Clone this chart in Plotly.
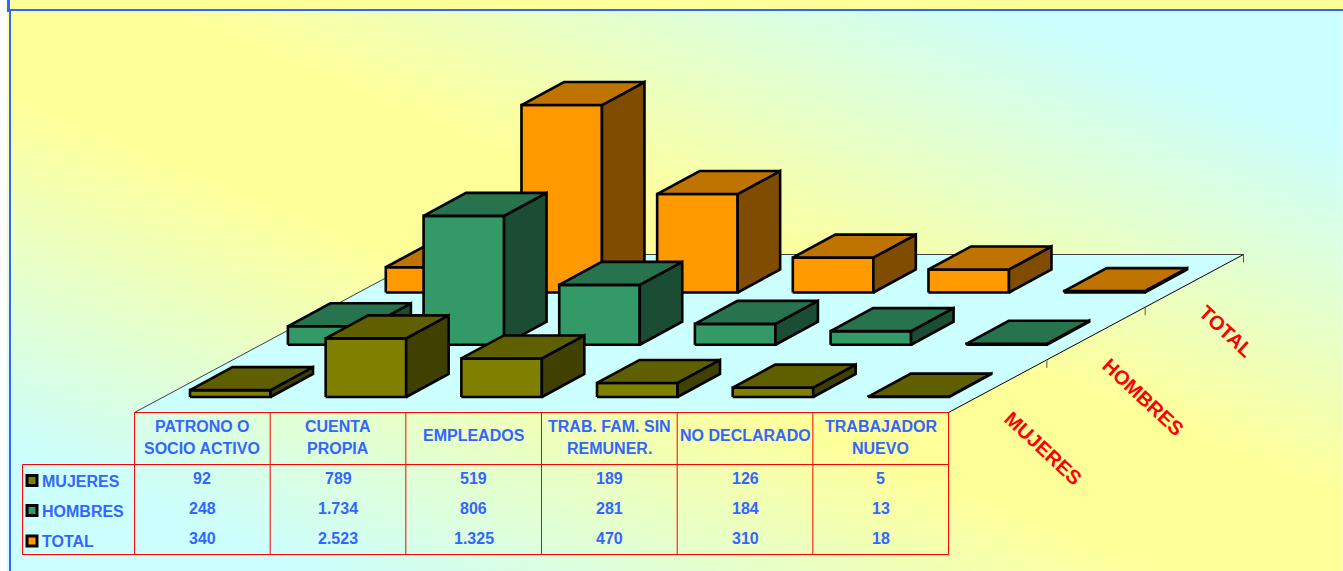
import plotly.graph_objects as go

categories = ["PATRONO O<br>SOCIO ACTIVO", "CUENTA<br>PROPIA", "EMPLEADOS",
              "TRAB. FAM. SIN<br>REMUNER.", "NO DECLARADO", "TRABAJADOR<br>NUEVO"]
series_names = ["MUJERES", "HOMBRES", "TOTAL"]
mujeres = [92, 789, 519, 189, 126, 5]
hombres = [248, 1734, 806, 281, 184, 13]
total = [340, 2523, 1325, 470, 310, 18]
mujeres_labels = ["92", "789", "519", "189", "126", "5"]
hombres_labels = ["248", "1.734", "806", "281", "184", "13"]
total_labels = ["340", "2.523", "1.325", "470", "310", "18"]
values = [mujeres, hombres, total]
labels = [mujeres_labels, hombres_labels, total_labels]
front_colors = ["#808000", "#339966", "#FF9900"]
top_colors = ["#605F00", "#26734D", "#BF7300"]
side_colors = ["#404000", "#1A4D33", "#804D00"]

W, H = 1343, 571
BLUE = "#3366FF"
COL_X0, COL_W = 134.5, 135.67
FLOOR_Y = 412.5
BAR_W, BAR_DX, BAR_DY = 80.5, 42.5, -23
BAR_X0, BAR_Y0 = 190, 397
ROW_DX, ROW_DY = 97.9, -52.25
PX_PER_UNIT = 0.0743

# background: yellow along the main diagonal, fading to cyan towards two corners
nx, ny = 160, 80
gx = [11 + (W - 11) * i / (nx - 1) for i in range(nx)]
gy = [11 + (H - 11) * j / (ny - 1) for j in range(ny)]
gz = []
for y in gy:
    row = []
    for x in gx:
        u = y - (33 + 0.414 * (x - 40))
        row.append(max(0.0, min(1.0, (abs(u) - 70) / 360)))
    gz.append(row)

fig = go.Figure()
fig.add_trace(go.Heatmap(x=gx, y=gy, z=gz, zmin=0, zmax=1, zsmooth="best", showscale=False,
                         colorscale=[[0, "#FFFF99"], [1, "#CCFFFF"]], hoverinfo="skip"))

# floor
fx0, fx1 = COL_X0, COL_X0 + 6 * COL_W
bdx, bdy = 295, -158
fig.add_trace(go.Scatter(x=[fx0, fx1, fx1 + bdx, fx0 + bdx, fx0], y=[FLOOR_Y, FLOOR_Y, FLOOR_Y + bdy, FLOOR_Y + bdy, FLOOR_Y],
                         mode="lines", fill="toself", fillcolor="#CCFFFF", line=dict(width=0), hoverinfo="skip"))
fig.add_trace(go.Scatter(x=[fx0, fx0 + bdx, None, fx0 + bdx, fx1 + bdx], y=[FLOOR_Y, FLOOR_Y + bdy, None, FLOOR_Y + bdy, FLOOR_Y + bdy],
                         mode="lines", line=dict(color="#404040", width=1), hoverinfo="skip"))
fig.add_trace(go.Scatter(x=[fx1, fx1 + bdx], y=[FLOOR_Y, FLOOR_Y + bdy], mode="lines",
                         line=dict(color="black", width=1), hoverinfo="skip"))
tx, ty = [], []
for k in (1, 2, 3):
    px = fx1 + bdx * k / 3
    py = FLOOR_Y + bdy * k / 3
    tx += [px, px, None]
    ty += [py, py + 8, None]
fig.add_trace(go.Scatter(x=tx, y=ty, mode="lines", line=dict(color="#555555", width=1), hoverinfo="skip"))


def face(xs, ys, color):
    fig.add_trace(go.Scatter(x=xs + xs[:1], y=ys + ys[:1], mode="lines", fill="toself", fillcolor=color,
                             line=dict(color="black", width=2.6, simplify=False), hoverinfo="skip"))


# 3D bars, back row first
for s in (2, 1, 0):
    for c, v in enumerate(values[s]):
        x0 = BAR_X0 + c * COL_W + s * ROW_DX
        y0 = BAR_Y0 + s * ROW_DY
        x1 = x0 + BAR_W
        yt = y0 - v * PX_PER_UNIT
        face([x0, x1, x1, x0], [y0, y0, yt, yt], front_colors[s])
        face([x1, x1 + BAR_DX, x1 + BAR_DX, x1], [y0, y0 + BAR_DY, yt + BAR_DY, yt], side_colors[s])
        face([x0, x1, x1 + BAR_DX, x0 + BAR_DX], [yt, yt, yt + BAR_DY, yt + BAR_DY], top_colors[s])

# table grid
ROW_HEAD_Y, TABLE_BOTTOM, TABLE_LEFT = 464.5, 554.5, 22.5
gxs, gys = [], []
for i in range(7):
    gxs += [COL_X0 + i * COL_W, COL_X0 + i * COL_W, None]
    gys += [FLOOR_Y, TABLE_BOTTOM, None]
gxs += [fx0, fx1, None, TABLE_LEFT, fx1, None, TABLE_LEFT, fx1, None, TABLE_LEFT, TABLE_LEFT]
gys += [FLOOR_Y, FLOOR_Y, None, ROW_HEAD_Y, ROW_HEAD_Y, None, TABLE_BOTTOM, TABLE_BOTTOM, None, ROW_HEAD_Y, TABLE_BOTTOM]
fig.add_trace(go.Scatter(x=gxs, y=gys, mode="lines", line=dict(color="#FF0000", width=1), hoverinfo="skip"))

# legend keys
fig.add_trace(go.Scatter(x=[32, 32, 32], y=[480.5, 510.5, 541], mode="markers", hoverinfo="skip",
                         marker=dict(symbol="square", size=10, color=front_colors, line=dict(color="black", width=3))))

FONT = "Liberation Sans, Arial, sans-serif"


def text(x, y, s, color=BLUE, size=16, anchor="center", angle=0):
    fig.add_annotation(x=x, y=y, xref="x", yref="y", text="<b>%s</b>" % s, showarrow=False, xanchor=anchor,
                       yanchor="middle", textangle=angle, font=dict(family=FONT, size=size, color=color))


for c, name in enumerate(categories):
    cx = COL_X0 + (c + 0.5) * COL_W
    parts = name.split("<br>")
    if len(parts) == 2:
        text(cx, 426, parts[0])
        text(cx, 448, parts[1])
    else:
        text(cx, 435.5, parts[0])

row_ys = [478, 508, 538]
key_ys = [481, 511, 541]
for s, name in enumerate(series_names):
    text(40, key_ys[s], name, anchor="left")
    for c, lab in enumerate(labels[s]):
        text(COL_X0 + (c + 0.5) * COL_W, row_ys[s], lab)

axis_label_pos = [(1043, 448), (1143, 397), (1226, 331)]
for (x, y), name in zip(axis_label_pos, series_names):
    text(x, y, name, color="#FF0000", size=20, angle=43)

fig.update_layout(
    width=W, height=H, margin=dict(l=0, r=0, t=0, b=0), paper_bgcolor="white", plot_bgcolor="white",
    showlegend=False,
    xaxis=dict(range=[0, W], visible=False, fixedrange=True),
    yaxis=dict(range=[H, 0], visible=False, fixedrange=True),
    shapes=[
        dict(type="rect", x0=10, x1=W, y0=0, y1=9, fillcolor="#FFFF99", line_width=0, layer="above"),
        dict(type="rect", x0=7, x1=W, y0=9, y1=11, fillcolor=BLUE, line_width=0, layer="above"),
        dict(type="rect", x0=7, x1=10, y0=0, y1=12, fillcolor=BLUE, line_width=0, layer="above"),
        dict(type="rect", x0=9, x1=11, y0=9, y1=H, fillcolor=BLUE, line_width=0, layer="above"),
    ],
)
fig.write_html("out.html", config=dict(displayModeBar=False),
               post_script="document.body.style.margin='0';document.body.style.overflow='hidden';")
